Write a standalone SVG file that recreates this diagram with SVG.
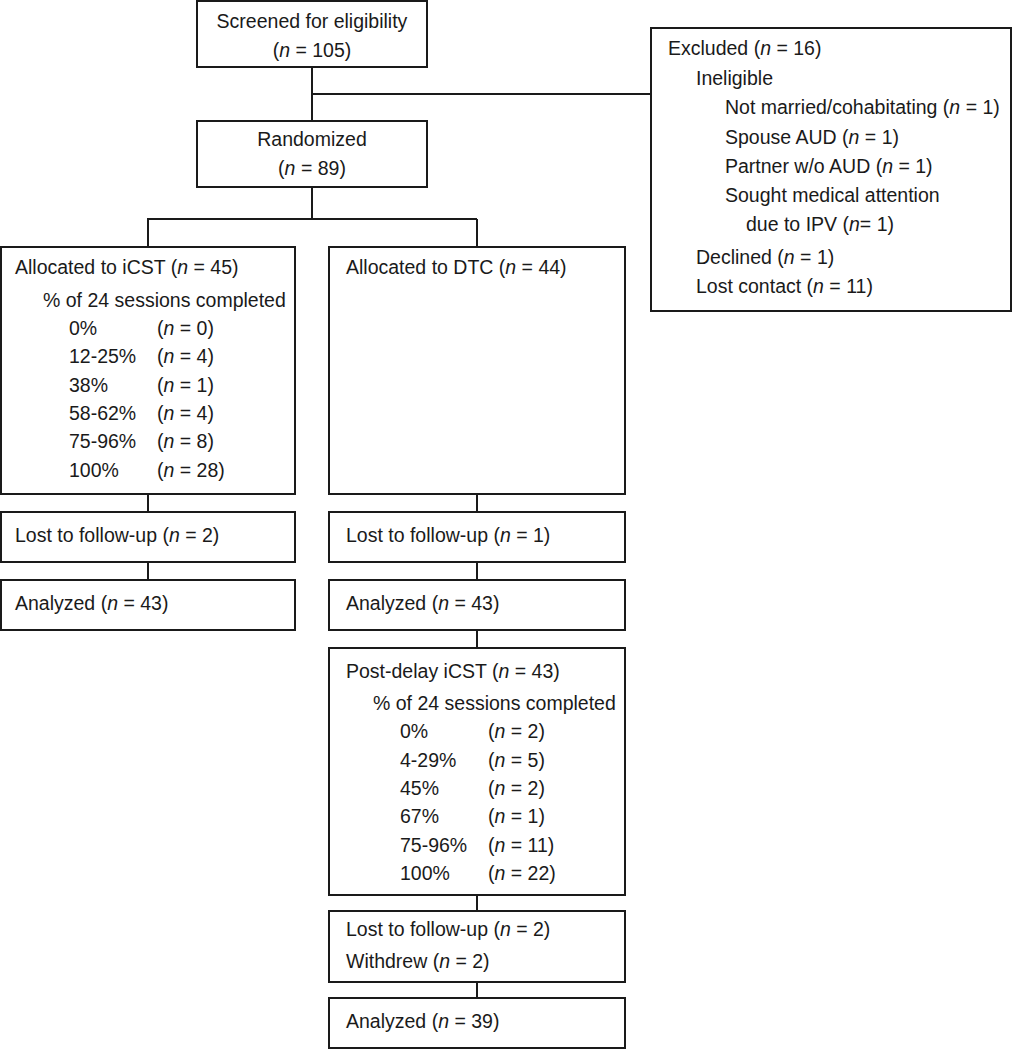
<svg xmlns="http://www.w3.org/2000/svg" width="1013" height="1050" viewBox="0 0 1013 1050">
<style>
rect.box{fill:#fff;stroke:#1a1a1a;stroke-width:2}
.conn line{stroke:#1a1a1a;stroke-width:2}
text{font-family:"Liberation Sans",Arial,sans-serif;font-size:19.5px;fill:#1a1a1a}
.c{text-anchor:middle}
.i{font-style:italic}
</style>
<rect width="1013" height="1050" fill="#fff"/>
<g class="conn" id="connectors">
<line x1="312" y1="67" x2="312" y2="121"/>
<line x1="312" y1="94" x2="651" y2="94"/>
<line x1="312" y1="187" x2="312" y2="219"/>
<line x1="147" y1="219" x2="477" y2="219"/>
<line x1="148" y1="219" x2="148" y2="247"/>
<line x1="477" y1="219" x2="477" y2="247"/>
<line x1="148" y1="494" x2="148" y2="512"/>
<line x1="477" y1="494" x2="477" y2="512"/>
<line x1="148" y1="562" x2="148" y2="580"/>
<line x1="477" y1="562" x2="477" y2="580"/>
<line x1="477" y1="630" x2="477" y2="648"/>
<line x1="477" y1="895" x2="477" y2="911"/>
<line x1="477" y1="982" x2="477" y2="998"/>
</g>
<g id="screened">
<rect class="box" x="197" y="1" width="230" height="66"/>
<text class="c" x="312" y="28">Screened for eligibility</text>
<text class="c" x="312" y="57">(<tspan class="i">n</tspan> = 105)</text>
</g>
<g id="excluded">
<rect class="box" x="651" y="28" width="360" height="283"/>
<text x="668" y="55">Excluded (<tspan class="i">n</tspan> = 16)</text>
<text x="696" y="85">Ineligible</text>
<text x="725" y="114">Not married/cohabitating (<tspan class="i">n</tspan> = 1)</text>
<text x="725" y="144">Spouse AUD (<tspan class="i">n</tspan> = 1)</text>
<text x="725" y="173">Partner w/o AUD (<tspan class="i">n</tspan> = 1)</text>
<text x="725" y="202">Sought medical attention</text>
<text x="746" y="231">due to IPV (<tspan class="i">n</tspan>= 1)</text>
<text x="696" y="264">Declined (<tspan class="i">n</tspan> = 1)</text>
<text x="696" y="293">Lost contact (<tspan class="i">n</tspan> = 11)</text>
</g>
<g id="randomized">
<rect class="box" x="197" y="121" width="230" height="66"/>
<text class="c" x="312" y="146">Randomized</text>
<text class="c" x="312" y="175">(<tspan class="i">n</tspan> = 89)</text>
</g>
<g id="icst">
<rect class="box" x="1" y="247" width="294" height="247"/>
<text x="15" y="274">Allocated to iCST (<tspan class="i">n</tspan> = 45)</text>
<text x="43" y="307">% of 24 sessions completed</text>
<text x="69" y="335">0%</text><text x="157" y="335">(<tspan class="i">n</tspan> = 0)</text>
<text x="69" y="363">12-25%</text><text x="157" y="363">(<tspan class="i">n</tspan> = 4)</text>
<text x="69" y="392">38%</text><text x="157" y="392">(<tspan class="i">n</tspan> = 1)</text>
<text x="69" y="420">58-62%</text><text x="157" y="420">(<tspan class="i">n</tspan> = 4)</text>
<text x="69" y="448">75-96%</text><text x="157" y="448">(<tspan class="i">n</tspan> = 8)</text>
<text x="69" y="477">100%</text><text x="157" y="477">(<tspan class="i">n</tspan> = 28)</text>
</g>
<g id="dtc">
<rect class="box" x="329" y="247" width="296" height="247"/>
<text x="346" y="274">Allocated to DTC (<tspan class="i">n</tspan> = 44)</text>
</g>
<g id="icst-lost">
<rect class="box" x="1" y="512" width="294" height="50"/>
<text x="15" y="542">Lost to follow-up (<tspan class="i">n</tspan> = 2)</text>
</g>
<g id="dtc-lost">
<rect class="box" x="329" y="512" width="296" height="50"/>
<text x="346" y="542">Lost to follow-up (<tspan class="i">n</tspan> = 1)</text>
</g>
<g id="icst-analyzed">
<rect class="box" x="1" y="580" width="294" height="50"/>
<text x="15" y="610">Analyzed (<tspan class="i">n</tspan> = 43)</text>
</g>
<g id="dtc-analyzed">
<rect class="box" x="329" y="580" width="296" height="50"/>
<text x="346" y="610">Analyzed (<tspan class="i">n</tspan> = 43)</text>
</g>
<g id="postdelay">
<rect class="box" x="329" y="648" width="296" height="247"/>
<text x="346" y="678">Post-delay iCST (<tspan class="i">n</tspan> = 43)</text>
<text x="373" y="710">% of 24 sessions completed</text>
<text x="400" y="738">0%</text><text x="488" y="738">(<tspan class="i">n</tspan> = 2)</text>
<text x="400" y="767">4-29%</text><text x="488" y="767">(<tspan class="i">n</tspan> = 5)</text>
<text x="400" y="795">45%</text><text x="488" y="795">(<tspan class="i">n</tspan> = 2)</text>
<text x="400" y="823">67%</text><text x="488" y="823">(<tspan class="i">n</tspan> = 1)</text>
<text x="400" y="852">75-96%</text><text x="488" y="852">(<tspan class="i">n</tspan> = 11)</text>
<text x="400" y="880">100%</text><text x="488" y="880">(<tspan class="i">n</tspan> = 22)</text>
</g>
<g id="postdelay-lost">
<rect class="box" x="329" y="911" width="296" height="71"/>
<text x="346" y="936">Lost to follow-up (<tspan class="i">n</tspan> = 2)</text>
<text x="346" y="968">Withdrew (<tspan class="i">n</tspan> = 2)</text>
</g>
<g id="postdelay-analyzed">
<rect class="box" x="329" y="998" width="296" height="50"/>
<text x="346" y="1028">Analyzed (<tspan class="i">n</tspan> = 39)</text>
</g>
</svg>
